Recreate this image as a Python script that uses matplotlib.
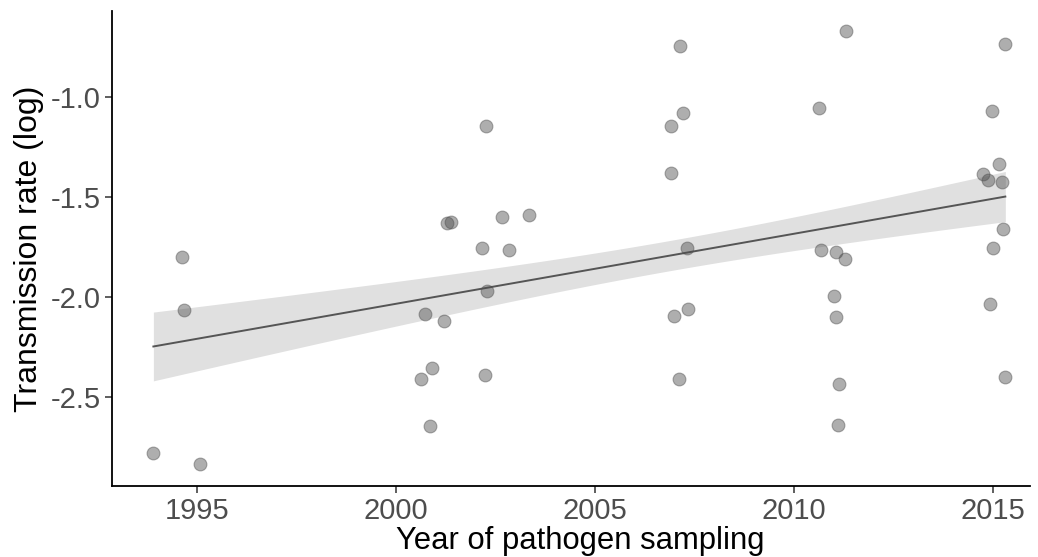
import numpy as np
import matplotlib
matplotlib.use("Agg")
import matplotlib.pyplot as plt

plt.rcParams['font.family'] = ['Liberation Sans', 'DejaVu Sans']

# year of sampling and log transmission rate
years = [1993.90, 1994.62, 1994.67, 1995.07,
         2000.62, 2000.73, 2000.85, 2000.90, 2001.21, 2001.27, 2001.37,
         2002.17, 2002.24, 2002.26, 2002.28, 2002.65, 2002.83, 2003.34,
         2006.91, 2006.91, 2006.98, 2007.11, 2007.14, 2007.20, 2007.32, 2007.34,
         2010.62, 2010.69, 2011.00, 2011.05, 2011.05, 2011.10, 2011.12, 2011.29, 2011.30,
         2014.75, 2014.87, 2014.92, 2014.97, 2014.99, 2015.14, 2015.22, 2015.24, 2015.31, 2015.31]
rates = [-2.778, -1.798, -2.065, -2.835,
         -2.408, -2.083, -2.645, -2.357, -2.120, -1.632, -1.623,
         -1.757, -2.390, -1.145, -1.972, -1.600, -1.765, -1.590,
         -1.145, -1.378, -2.097, -2.410, -0.743, -1.080, -1.753, -2.062,
         -1.053, -1.767, -1.993, -1.775, -2.098, -2.638, -2.433, -1.808, -0.672,
         -1.383, -1.413, -2.035, -1.070, -1.757, -1.336, -1.425, -1.658, -0.733, -2.398]

x = np.array(years)
y = np.array(rates)

# linear fit with a +/- 1 standard error band
n = len(x)
b1, b0 = np.polyfit(x, y, 1)
resid = y - (b0 + b1 * x)
s = np.sqrt(np.sum(resid ** 2) / (n - 2))
band_mult = 1.0
xs = np.linspace(x.min(), x.max(), 100)
fit = b0 + b1 * xs
se = s * np.sqrt(1.0 / n + (xs - x.mean()) ** 2 / np.sum((x - x.mean()) ** 2))

fig = plt.figure(figsize=(10.38, 5.57), dpi=100)
ax = fig.add_axes([112 / 1038, 71 / 557, (1030 - 112) / 1038, (486 - 11) / 557])

ax.fill_between(xs, fit - band_mult * se, fit + band_mult * se, color='#e0e0e0', lw=0, zorder=1)
ax.plot(xs, fit, color='#555555', lw=1.4, zorder=2)
ax.scatter(x, y, s=85, color='#4d4d4d', alpha=0.45, edgecolors='#4d4d4d', linewidths=0.8, zorder=3)

ax.set_xlim(1992.86, 2015.93)
ax.set_ylim(-2.945, -0.57)
ax.set_xticks([1995, 2000, 2005, 2010, 2015])
ax.set_yticks([-2.5, -2.0, -1.5, -1.0])
ax.set_yticklabels(['-2.5', '-2.0', '-1.5', '-1.0'])

for side in ['top', 'right']:
    ax.spines[side].set_visible(False)
for side in ['left', 'bottom']:
    ax.spines[side].set_linewidth(1.3)
    ax.spines[side].set_color('black')

ax.tick_params(axis='both', labelsize=21, colors='#4d4d4d', length=5, width=1.1, pad=3)
ax.tick_params(axis='both', color='#333333')

ax.set_xlabel('Year of pathogen sampling', fontsize=22.3, color='black', labelpad=0)
ax.xaxis.set_label_coords(0.51, -0.085)
ax.set_ylabel('Transmission rate (log)', fontsize=23, color='black', labelpad=5)

fig.savefig('out.png', dpi=100)
